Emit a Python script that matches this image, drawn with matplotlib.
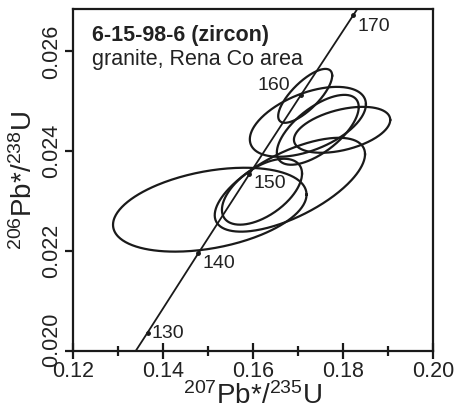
import numpy as np
import matplotlib.pyplot as plt
import matplotlib.transforms as mtransforms

plt.rcParams['font.family'] = ['Liberation Sans', 'DejaVu Sans']
plt.rcParams['mathtext.fontset'] = 'custom'
plt.rcParams['mathtext.rm'] = 'Liberation Sans'
plt.rcParams['mathtext.it'] = 'Liberation Sans:italic'

# concordia curve (207Pb/235U, 206Pb/238U) read at the age marks, plus the ends
concordia_x = [0.1330, 0.13659, 0.14784, 0.15920, 0.17068, 0.18226, 0.1845]
concordia_y = [0.01987, 0.02037, 0.021955, 0.023542, 0.025131, 0.026722, 0.02703]

ages = [130, 140, 150, 160, 170]
age_x = [0.13659, 0.14784, 0.15920, 0.17068, 0.18226]
age_y = [0.02037, 0.021955, 0.023542, 0.025131, 0.026722]

# error ellipses: centre, half extent in x and y, correlation
ell_x = [0.1504, 0.1682, 0.1620, 0.1722, 0.1716, 0.1744, 0.1798]
ell_y = [0.02283, 0.02333, 0.02319, 0.02459, 0.02511, 0.02443, 0.02443]
ell_sx = [0.0215, 0.0167, 0.0089, 0.0129, 0.0060, 0.0091, 0.0107]
ell_sy = [0.00084, 0.00094, 0.00066, 0.00070, 0.00054, 0.00070, 0.00046]
ell_rho = [0.36, 0.65, 0.55, 0.50, 0.75, 0.65, 0.43]

fig = plt.figure(figsize=(4.55, 4.16), dpi=100)
ax = fig.add_axes([0.1604, 0.1563, 0.7912, 0.8221])

ax.plot(concordia_x, concordia_y, '-', color='#1a1a1a', lw=1.3)
ax.plot(age_x, age_y, 'o', color='#1a1a1a', ms=2.5)

offsets = {130: (3, -1, 'left'), 140: (3, -7, 'left'), 150: (3, -7, 'left'),
           160: (-8, 7, 'right'), 170: (3, -8, 'left')}
for age, x, y in zip(ages, age_x, age_y):
    dx, dy, ha = offsets[age]
    ax.annotate(str(age), (x, y), xytext=(dx, dy), textcoords='offset points',
                ha=ha, va='center', fontsize=14, color='#222222')

t = np.linspace(0, 2 * np.pi, 300)
for x0, y0, sx, sy, rho in zip(ell_x, ell_y, ell_sx, ell_sy, ell_rho):
    ex = x0 + sx * np.cos(t)
    ey = y0 + sy * (rho * np.cos(t) + np.sqrt(1 - rho ** 2) * np.sin(t))
    ax.plot(ex, ey, '-', color='#1a1a1a', lw=1.6)

ax.text(0.053, 0.907, '6-15-98-6 (zircon)', transform=ax.transAxes,
        fontsize=15.5, fontweight='bold', color='#222222')
ax.text(0.053, 0.836, 'granite, Rena Co area', transform=ax.transAxes,
        fontsize=15.5, color='#222222')

ax.set_xlim(0.12, 0.20)
ax.set_ylim(0.020, 0.02685)
ax.set_xticks([0.12, 0.14, 0.16, 0.18, 0.20])
ax.set_xticklabels(['0.12', '0.14', '0.16', '0.18', '0.20'])
ax.set_xticks([0.13, 0.15, 0.17, 0.19], minor=True)
ax.set_yticks([0.020, 0.022, 0.024, 0.026])
ax.set_yticklabels(['0.020', '0.022', '0.024', '0.026'], rotation=90, va='center')

ax.tick_params(axis='x', which='major', direction='inout', length=11, width=1.6,
               labelsize=15.5, pad=2, colors='#1a1a1a', labelcolor='#222222')
ax.tick_params(axis='x', which='minor', direction='inout', length=7, width=1.6,
               colors='#1a1a1a')
ax.tick_params(axis='y', which='major', direction='out', length=6, width=1.6,
               labelsize=15.5, pad=2, colors='#1a1a1a', labelcolor='#222222')
for s in ax.spines.values():
    s.set_linewidth(1.6)
    s.set_color('#1a1a1a')

# the bottom y label sits a little higher, clear of the x labels
lab0 = ax.get_yticklabels()[0]
lab0.set_transform(lab0.get_transform() +
                   mtransforms.ScaledTranslation(0, 8 / 72, fig.dpi_scale_trans))

ax.set_xlabel('$^{207}$Pb*/$^{235}$U', fontsize=20, labelpad=0, color='#222222')
ax.set_ylabel('$^{206}$Pb*/$^{238}$U', fontsize=20, labelpad=2, color='#222222')

fig.savefig('out.png', dpi=100)
